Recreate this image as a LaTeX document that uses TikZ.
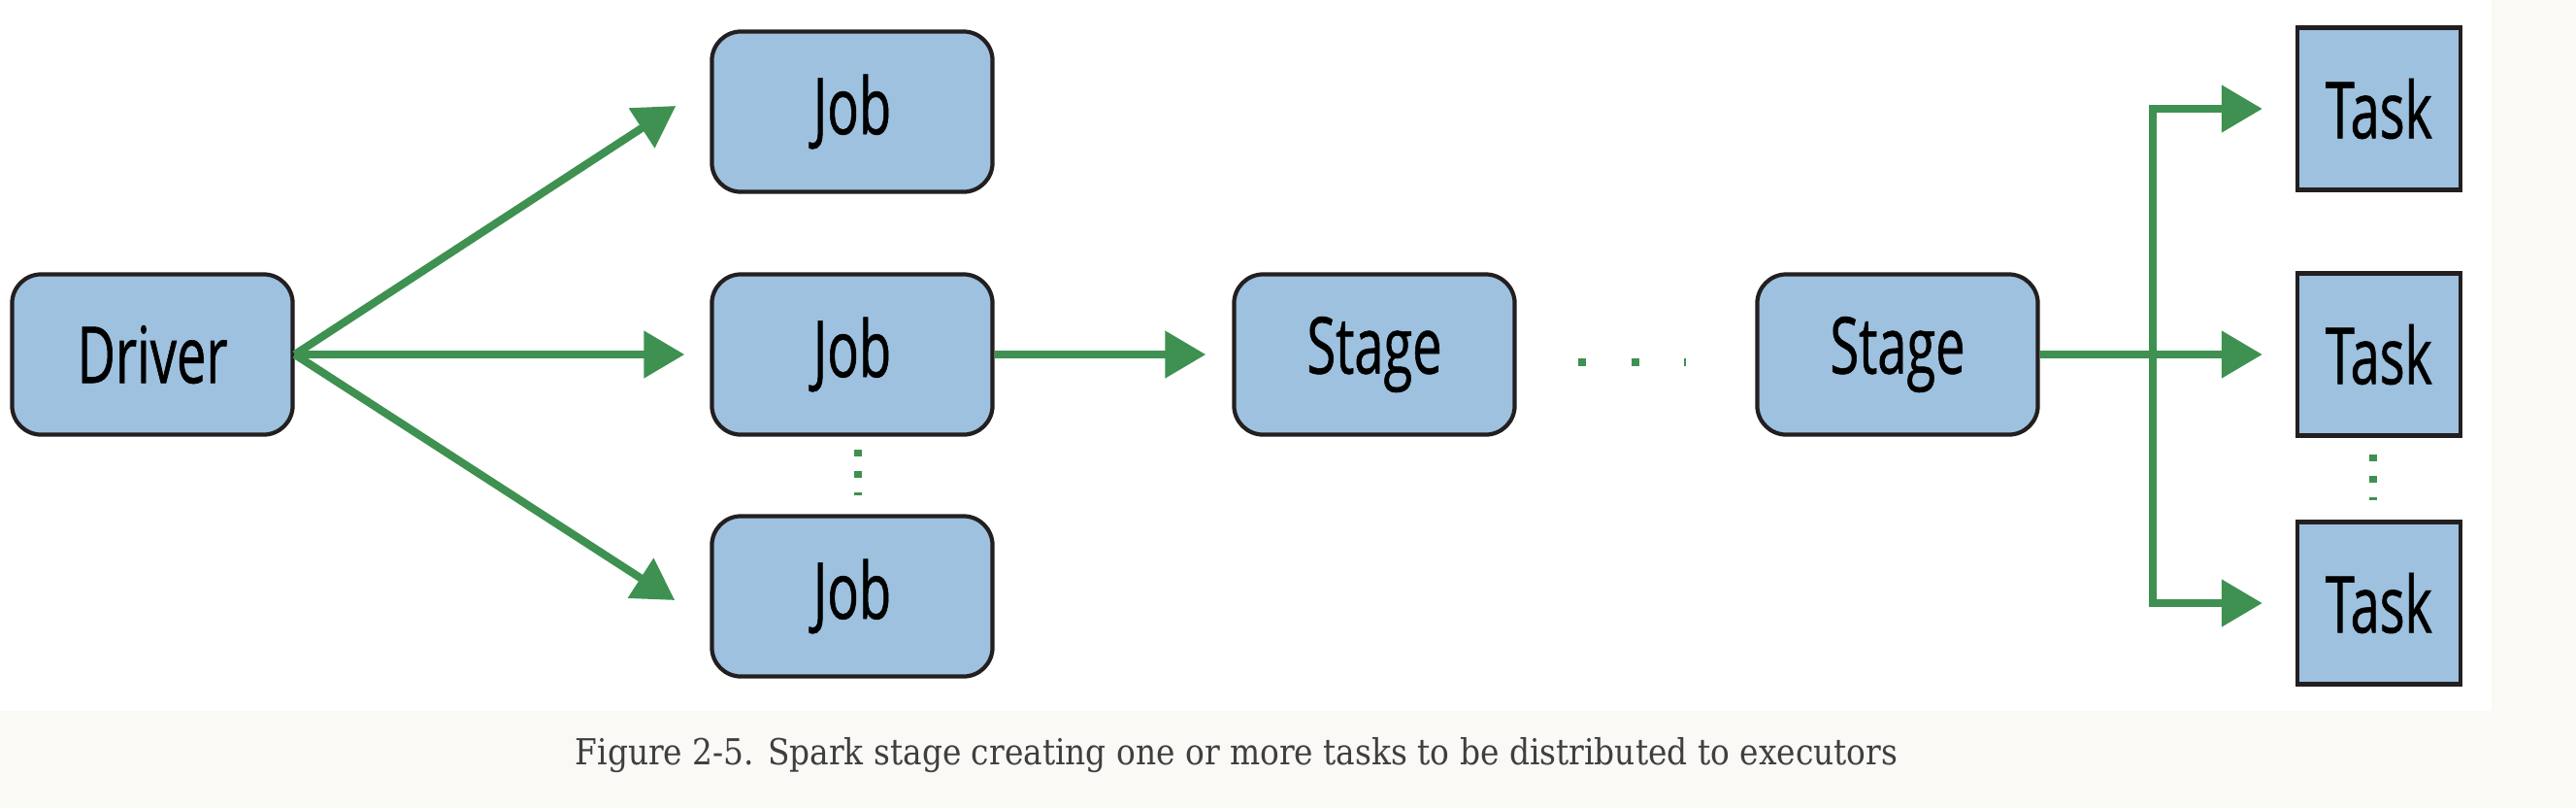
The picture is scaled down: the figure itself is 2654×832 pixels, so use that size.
\documentclass[tikz,border=0pt]{standalone}
\usepackage{fontspec}
\setmainfont[FakeStretch=0.89]{DejaVu Serif}
\newfontfamily\boxfont[FakeStretch=0.67, FakeBold=0.7]{Open Sans}
\usetikzlibrary{arrows.meta, positioning, calc}

\definecolor{boxblue}{HTML}{9DC1DE}
\definecolor{boxline}{HTML}{231F20}
\definecolor{flowgreen}{HTML}{3E9150}
\definecolor{pagebg}{HTML}{FAF9F5}
\definecolor{captiongray}{HTML}{3F3F3F}

\begin{document}
\begin{tikzpicture}[x=0.01cm, y=-0.01cm, >=Stealth, line join=miter]
	
	%======================
	% STYLES
	%======================
	\tikzset{
		block/.style={draw=boxline, fill=boxblue, line width=1.2pt, rounded corners=0.3cm,
			minimum width=2.89cm, minimum height=1.65cm, inner sep=0pt,
			font=\boxfont\fontsize{23}{26}\selectfont},
		taskbox/.style={block, rounded corners=0pt, minimum width=1.68cm, minimum height=1.67cm},
		flow/.style={draw=flowgreen, line width=2.3pt,
			-{Triangle[length=0.42cm, width=0.47cm]}},
		vdots/.style={draw=flowgreen, line width=2.3pt, dash pattern=on 2pt off 4.3pt},
		hdots/.style={draw=flowgreen, line width=2.3pt, dash pattern=on 2.3pt off 13.3pt}
	}
	
	%======================
	% PAGE
	%======================
	\useasboundingbox (0,0) rectangle (2654,832);
	\fill[pagebg] (0,0) rectangle (2654,832);
	\fill[white] (0,0) rectangle (2567,732);
	
	%======================
	% NODES
	%======================
	\node[block] (driver) at (157,365) {Driver};
	
	\node[block] (job1) at (878,115) {Job};
	\node[block] (job2) at (878,365) {Job};
	\node[block] (job3) at (878,614) {Job};
	
	\node[block] (stage1) at (1416,365) {Stage};
	\node[block] (stage2) at (1955,365) {Stage};
	
	\node[taskbox] (task1) at (2451,112) {Task};
	\node[taskbox] (task2) at (2451,365) {Task};
	\node[taskbox] (task3) at (2451,621) {Task};
	
	%======================
	% CONNECTORS
	%======================
	% driver fans out to jobs
	\draw[flow] (driver.east) -- ([shift={(-35,-6)}]job1.west);
	\draw[flow] (driver.east) -- ([shift={(-26,0)}]job2.west);
	\draw[flow] (driver.east) -- ([shift={(-36,4)}]job3.west);
	
	% job to first stage
	\draw[flow] (job2.east) -- ([shift={(-27,0)}]stage1.west);
	
	% last stage splits into tasks
	\coordinate (fork) at ($(stage2.east)+(116,0)$);
	\draw[flow] (stage2.east) -- ([shift={(-34,0)}]task2.west);
	\draw[flow] (fork) |- ([shift={(-34,0)}]task1.west);
	\draw[flow] (fork) |- ([shift={(-34,0)}]task3.west);
	
	% ellipses
	\draw[vdots] ([shift={(6,13)}]job2.south) -- ([shift={(6,-19)}]job3.north);
	\draw[vdots] ([shift={(-6,17)}]task2.south) -- ([shift={(-6,-20)}]task3.north);
	\draw[hdots] ([shift={(63,8)}]stage1.east) -- ([shift={(-71,8)}]stage2.west);
	
	%======================
	% CAPTION
	%======================
	\node[text=captiongray, font=\fontsize{10.5}{12}\selectfont] (caption) at (1274,778)
	{Figure 2-5. Spark stage creating one or more tasks to be distributed to executors};
	
\end{tikzpicture}
\end{document}
